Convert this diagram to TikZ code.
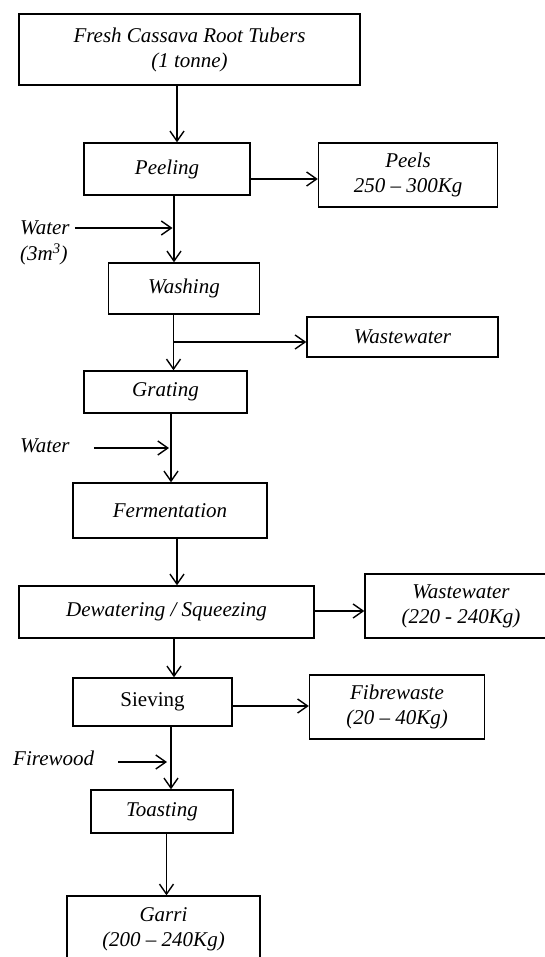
\documentclass[tikz,border=0pt]{standalone}
\usepackage{fontspec}
\setmainfont{Liberation Serif}
\usetikzlibrary{positioning,arrows.meta}

\begin{document}
\begin{tikzpicture}[x=1pt, y=-1pt,
  box/.style={draw=black, line width=1.4pt, align=center, inner sep=0pt, font=\fontsize{21}{25}\selectfont\itshape},
  flow/.style={-{Straight Barb[length=10pt,width=14pt]}, line width=1.4pt},
  lbl/.style={inner sep=0pt, font=\fontsize{21}{25}\selectfont\itshape}]
\useasboundingbox (0,0) rectangle (544,957);
% Main process line
\node[box, minimum width=341pt, minimum height=71pt] (tubers) at (189.5,49.5) {Fresh Cassava Root Tubers\\(1 tonne)};
\node[box, minimum width=166pt, minimum height=52pt] (peel) at (167,169) {Peeling};
\node[box, minimum width=151pt, minimum height=51pt] (wash) at (184,288.5) {Washing};
\node[box, minimum width=163pt, minimum height=42pt] (grate) at (165.5,392) {Grating};
\node[box, minimum width=194pt, minimum height=55pt] (ferment) at (170,510.5) {Fermentation};
\node[box, minimum width=295pt, minimum height=52pt] (dewater) at (166.5,612) {Dewatering / Squeezing};
\node[box, minimum width=159pt, minimum height=48pt, font=\fontsize{21}{25}\selectfont\upshape] (sieve) at (152.5,702) {Sieving};
\node[box, minimum width=142pt, minimum height=43pt] (toast) at (162,811.5) {Toasting};
\node[box, minimum width=193pt, minimum height=66pt] (garri) at (163.5,929) {Garri\\(200 -- 240Kg)};
% Outputs on the right
\node[box, minimum width=179pt, minimum height=64pt] (peels) at (408,175) {Peels\\250 -- 300Kg};
\node[box, minimum width=191pt, minimum height=40pt] (waste1) at (402.5,337) {Wastewater};
\node[box, minimum width=192pt, minimum height=64pt] (waste2) at (461,606) {Wastewater\\(220 - 240Kg)};
\node[box, minimum width=175pt, minimum height=64pt] (fibre) at (397,707) {Fibrewaste\\(20 -- 40Kg)};
% Inputs on the left
\node[lbl, anchor=west] (water1) at (20,228) {Water};
\node[lbl, below=8pt of water1.south west, anchor=north west] (water1q) {(3m\textsuperscript{3})};
\node[lbl, anchor=west] (water2) at (20,446) {Water};
\node[lbl, anchor=west] (firewood) at (13,758) {Firewood};
% Junctions on the main line
\coordinate (j1) at (174,228);
\coordinate (j2) at (173.5,342);
\coordinate (j3) at (171,448);
\coordinate (j4) at (171,762);
% Downward flow
\draw[flow] (tubers.south -| 177,0) -- (peel.north -| 177,0);
\draw[flow] (peel.south -| j1) -- (wash.north -| j1);
\draw[flow] (wash.south -| j2) -- (grate.north -| j2);
\draw[flow] (grate.south -| j3) -- (ferment.north -| j3);
\draw[flow] (ferment.south -| 177,0) -- (dewater.north -| 177,0);
\draw[flow] (dewater.south -| 174,0) -- (sieve.north -| 174,0);
\draw[flow] (sieve.south -| j4) -- (toast.north -| j4);
\draw[flow] (toast.south -| 166.5,0) -- (garri.north -| 166.5,0);
% Side streams
\draw[flow] (peel.east |- 0,179) -- (peels.west |- 0,179);
\draw[flow] (j2) -- (j2 -| waste1.west);
\draw[flow] (dewater.east |- 0,611) -- (waste2.west |- 0,611);
\draw[flow] (sieve.east |- 0,706) -- (fibre.west |- 0,706);
\draw[flow] ([xshift=5pt]water1.east |- j1) -- ([xshift=-1.5pt]j1);
\draw[flow] ([xshift=24pt]water2.east |- j3) -- ([xshift=-2pt]j3);
\draw[flow] ([xshift=24pt]firewood.east |- j4) -- ([xshift=-4pt]j4);
\end{tikzpicture}
\end{document}
